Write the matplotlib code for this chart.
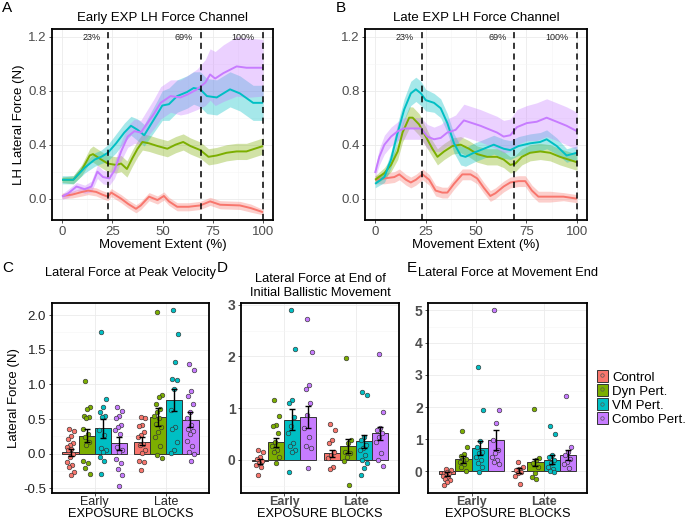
import numpy as np
import matplotlib
matplotlib.use("Agg")
import matplotlib.pyplot as plt
from matplotlib.patches import Patch
from matplotlib.lines import Line2D

plt.rcParams['font.family'] = ['Liberation Sans', 'DejaVu Sans']
plt.rcParams['axes.unicode_minus'] = False

groups = ["Control", "Dyn Pert.", "VM Pert.", "Combo Pert."]
colors = ["#F8766D", "#7CAE00", "#00BFC4", "#C77CFF"]

# ---------------- Panel A: Early EXP (x, mean, band half-width) ----------------
A_ctrl_x = [0, 5, 10, 13, 17, 20, 22.8, 24.5, 29.4, 33, 36.8, 39.2, 43.3, 47.5, 50.7, 53.2, 57.3, 63, 68.8, 73.7, 78.7, 88.5, 94, 100]
A_ctrl_y = [0.02, 0.03, 0.05, 0.06, 0.05, 0.03, 0.015, 0.045, 0.0, -0.04, -0.075, -0.05, 0.015, -0.01, 0.02, -0.02, -0.06, -0.06, -0.05, -0.02, -0.045, -0.05, -0.07, -0.10]
A_ctrl_s = [0.02, 0.025, 0.03, 0.03, 0.03, 0.03, 0.03, 0.03, 0.03, 0.03, 0.03, 0.03, 0.03, 0.03, 0.03, 0.03, 0.03, 0.03, 0.03, 0.03, 0.03, 0.03, 0.03, 0.02]

A_dyn_x = [0, 5.6, 9.7, 13.8, 15.4, 19.5, 22.8, 26.9, 29.4, 32.3, 35, 37.6, 40, 43.3, 47.5, 52.4, 56.5, 60.3, 63.9, 68.8, 72.9, 77, 81.9, 86.9, 91.8, 100]
A_dyn_y = [0.14, 0.14, 0.21, 0.32, 0.33, 0.29, 0.26, 0.25, 0.26, 0.22, 0.30, 0.37, 0.42, 0.41, 0.39, 0.37, 0.40, 0.42, 0.39, 0.36, 0.31, 0.32, 0.34, 0.35, 0.35, 0.39]
A_dyn_s = [0.02, 0.03, 0.04, 0.05, 0.06, 0.06, 0.06, 0.06, 0.06, 0.06, 0.06, 0.06, 0.06, 0.06, 0.06, 0.06, 0.06, 0.06, 0.06, 0.06, 0.06, 0.06, 0.06, 0.06, 0.06, 0.06]

A_vm_x = [0, 5.6, 11.3, 16.3, 19.5, 22.8, 26.9, 31, 34.3, 37.6, 40.9, 44.2, 47.5, 49.9, 53.2, 57.3, 62.2, 65.5, 68.8, 72.1, 77, 83.6, 88.5, 95.1, 100]
A_vm_y = [0.14, 0.14, 0.23, 0.29, 0.31, 0.34, 0.41, 0.49, 0.54, 0.51, 0.47, 0.55, 0.63, 0.69, 0.70, 0.76, 0.79, 0.82, 0.81, 0.76, 0.75, 0.81, 0.78, 0.71, 0.71]
A_vm_s = [0.03, 0.03, 0.04, 0.05, 0.05, 0.06, 0.07, 0.07, 0.07, 0.08, 0.08, 0.09, 0.10, 0.11, 0.12, 0.12, 0.12, 0.12, 0.13, 0.13, 0.13, 0.13, 0.13, 0.13, 0.13]

A_cmb_x = [0, 3.1, 7.2, 11.3, 14.6, 17.6, 20.4, 23.6, 26.1, 29.4, 32.7, 36, 39.2, 42.5, 45.8, 49.1, 54, 58.9, 62.2, 67.2, 71.3, 73.7, 76.2, 80.3, 86.9, 91.8, 100]
A_cmb_y = [0.015, 0.04, 0.09, 0.07, 0.09, 0.20, 0.16, 0.15, 0.21, 0.35, 0.46, 0.50, 0.49, 0.56, 0.63, 0.71, 0.76, 0.75, 0.77, 0.81, 0.86, 0.92, 0.89, 0.93, 0.98, 0.97, 0.97]
A_cmb_s = [0.02, 0.03, 0.03, 0.03, 0.04, 0.05, 0.05, 0.05, 0.06, 0.07, 0.08, 0.09, 0.09, 0.10, 0.11, 0.12, 0.12, 0.13, 0.14, 0.15, 0.17, 0.19, 0.20, 0.21, 0.22, 0.22, 0.21]

# ---------------- Panel B: Late EXP ----------------
B_ctrl_x = [0, 4.6, 9.5, 12, 15.3, 17.7, 20.2, 23.5, 26.8, 30, 33.3, 35.8, 39.1, 43.2, 47.3, 50.6, 53.9, 57.1, 59.6, 63.7, 67, 71.1, 74.4, 77.7, 80.9, 86.7, 93.3, 100]
B_ctrl_y = [0.14, 0.15, 0.16, 0.18, 0.14, 0.12, 0.14, 0.18, 0.14, 0.06, 0.045, 0.045, 0.11, 0.18, 0.18, 0.15, 0.08, 0.02, 0.04, 0.09, 0.12, 0.13, 0.13, 0.06, 0.015, 0.015, 0.015, 0.0]
B_ctrl_s = [0.03, 0.04, 0.04, 0.04, 0.04, 0.04, 0.04, 0.04, 0.04, 0.04, 0.04, 0.04, 0.04, 0.04, 0.04, 0.04, 0.04, 0.04, 0.04, 0.04, 0.04, 0.04, 0.04, 0.04, 0.04, 0.04, 0.03, 0.03]

B_dyn_x = [0, 4.6, 7.9, 11.2, 13.6, 16.9, 18.6, 21.8, 25.1, 28.4, 30.9, 34.2, 38.3, 42.4, 46.5, 50.6, 55.5, 60.4, 63.7, 67, 69.5, 72.7, 76.8, 81.8, 86.7, 91.6, 100]
B_dyn_y = [0.14, 0.19, 0.25, 0.35, 0.49, 0.60, 0.60, 0.55, 0.46, 0.37, 0.31, 0.35, 0.39, 0.40, 0.37, 0.33, 0.31, 0.31, 0.29, 0.25, 0.26, 0.31, 0.34, 0.35, 0.34, 0.31, 0.27]
B_dyn_s = [0.03, 0.04, 0.05, 0.06, 0.07, 0.08, 0.08, 0.08, 0.07, 0.06, 0.06, 0.06, 0.06, 0.06, 0.06, 0.06, 0.06, 0.06, 0.06, 0.06, 0.06, 0.06, 0.06, 0.06, 0.06, 0.06, 0.06]

B_vm_x = [0, 4.6, 7.9, 11.2, 14.4, 17.7, 20.2, 22.7, 25.1, 29.2, 32.5, 35.8, 39.1, 42.4, 44.8, 48.9, 53.9, 58.8, 63.7, 67, 71.1, 76.8, 81.8, 85, 90, 94.9, 100]
B_vm_y = [0.11, 0.16, 0.29, 0.49, 0.66, 0.78, 0.81, 0.78, 0.73, 0.71, 0.67, 0.56, 0.41, 0.32, 0.31, 0.34, 0.37, 0.40, 0.37, 0.36, 0.39, 0.41, 0.42, 0.44, 0.39, 0.32, 0.34]
B_vm_s = [0.03, 0.04, 0.06, 0.07, 0.08, 0.09, 0.09, 0.09, 0.08, 0.07, 0.07, 0.07, 0.07, 0.07, 0.07, 0.07, 0.07, 0.07, 0.07, 0.07, 0.07, 0.07, 0.07, 0.07, 0.06, 0.05, 0.05]

B_cmb_x = [0, 2.1, 4.6, 7.9, 11.2, 14.4, 18.6, 22.7, 25.9, 29.2, 32.5, 35.8, 39.9, 44, 48.1, 52.2, 57.1, 60.4, 63.7, 67, 70.3, 75.2, 80.1, 85, 90, 94.9, 100]
B_cmb_y = [0.19, 0.31, 0.40, 0.46, 0.50, 0.52, 0.52, 0.52, 0.46, 0.44, 0.45, 0.49, 0.51, 0.58, 0.56, 0.54, 0.51, 0.49, 0.46, 0.47, 0.53, 0.56, 0.57, 0.60, 0.57, 0.54, 0.50]
B_cmb_s = [0.04, 0.06, 0.07, 0.07, 0.07, 0.08, 0.08, 0.08, 0.09, 0.09, 0.10, 0.10, 0.11, 0.12, 0.12, 0.12, 0.12, 0.12, 0.12, 0.12, 0.13, 0.13, 0.14, 0.14, 0.14, 0.14, 0.14]

vlines = [23, 69, 100]
vline_labels = ["23%", "69%", "100%"]

# ---------------- Bar panels ----------------
blocks = ["Early", "Late"]

# Panel C: Lateral Force at Peak Velocity
C_mean = [[0.02, 0.26, 0.37, 0.15], [0.17, 0.53, 0.78, 0.49]]
C_lo = [[-0.03, 0.17, 0.22, 0.06], [0.12, 0.40, 0.61, 0.38]]
C_hi = [[0.07, 0.35, 0.50, 0.24], [0.24, 0.66, 0.93, 0.60]]
C_pts = [
    [[0.36, 0.33, 0.26, 0.21, 0.15, 0.13, 0.10, 0.07, 0.05, 0.0, -0.05, -0.12, -0.17, -0.19, -0.26, -0.31],
     [1.05, 0.67, 0.65, 0.55, 0.53, 0.52, 0.36, 0.29, 0.24, 0.17, 0.12, -0.10, -0.13, -0.20, -0.30],
     [1.76, 0.79, 0.67, 0.60, 0.55, 0.53, 0.34, 0.27, 0.08, 0.06, 0.02, -0.05, -0.11, -0.30],
     [0.68, 0.62, 0.55, 0.52, 0.42, 0.39, 0.34, 0.28, 0.10, 0.05, 0.02, -0.08, -0.14, -0.22, -0.31, -0.46]],
    [[0.53, 0.51, 0.41, 0.40, 0.31, 0.27, 0.24, 0.14, 0.12, 0.05, 0.01, -0.10, -0.12, -0.23],
     [2.05, 0.84, 0.82, 0.71, 0.65, 0.60, 0.55, 0.52, 0.43, 0.39, 0.31, 0.24, 0.11, -0.02, -0.06],
     [2.07, 1.73, 1.32, 1.08, 1.07, 0.94, 0.63, 0.38, 0.36, 0.17, 0.06, 0.01],
     [1.29, 1.21, 0.90, 0.83, 0.71, 0.60, 0.51, 0.41, 0.36, 0.33, 0.29, 0.19, 0.11, 0.03, 0.0, -0.10]],
]

# Panel D: Lateral Force at End of Initial Ballistic Movement
D_mean = [[-0.03, 0.34, 0.78, 0.83], [0.13, 0.26, 0.36, 0.52]]
D_lo = [[-0.07, 0.24, 0.57, 0.61], [0.06, 0.13, 0.23, 0.38]]
D_hi = [[0.02, 0.43, 0.99, 1.04], [0.20, 0.40, 0.49, 0.63]]
D_pts = [
    [[0.19, 0.16, 0.06, 0.01, -0.03, -0.06, -0.10, -0.13, -0.29],
     [1.16, 0.84, 0.68, 0.65, 0.52, 0.35, 0.26, 0.19, 0.16, 0.06, -0.06],
     [2.89, 2.14, 1.15, 1.11, 0.83, 0.65, 0.52, 0.32, 0.26, 0.19, 0.16, -0.23],
     [2.73, 2.08, 1.45, 1.37, 1.11, 0.87, 0.61, 0.45, 0.26, 0.23, -0.16]],
    [[0.70, 0.58, 0.39, 0.32, 0.16, 0.10, 0.03, -0.13, -0.18],
     [1.98, 0.39, 0.32, 0.16, 0.13, 0.06, -0.03, -0.48],
     [1.32, 1.26, 0.45, 0.39, 0.29, 0.23, 0.19, 0.10, 0.0, -0.06, -0.16, -0.29],
     [2.04, 0.92, 0.61, 0.57, 0.52, 0.45, 0.35, 0.13, 0.0, -0.12]],
]

# Panel E: Lateral Force at Movement End
E_mean = [[-0.08, 0.39, 0.72, 0.97], [0.01, 0.28, 0.35, 0.50]]
E_lo = [[-0.13, 0.27, 0.50, 0.65], [-0.05, 0.16, 0.22, 0.35]]
E_hi = [[-0.03, 0.48, 0.94, 1.30], [0.10, 0.38, 0.50, 0.65]]
E_pts = [
    [[0.06, 0.03, -0.01, -0.04, -0.06, -0.10, -0.13, -0.17, -0.22, -0.28, -0.32, -0.42],
     [1.26, 0.77, 0.53, 0.49, 0.40, 0.35, 0.30, 0.23, 0.14, 0.0],
     [3.25, 1.90, 0.95, 0.77, 0.61, 0.56, 0.46, 0.35, 0.25, 0.14, -0.01],
     [5.0, 1.90, 1.51, 0.97, 0.66, 0.56, 0.46, 0.35, 0.30, 0.23]],
    [[0.30, 0.14, 0.09, 0.04, -0.01, -0.06, -0.14, -0.40],
     [1.94, 0.42, 0.35, 0.25, 0.14, -0.06, -0.17, -0.22],
     [1.42, 1.15, 0.51, 0.46, 0.35, 0.25, 0.14, 0.06, 0.02, -0.01],
     [2.35, 0.77, 0.61, 0.51, 0.40, 0.30, 0.23, 0.12]],
]

W, H = 685, 521
fig = plt.figure(figsize=(W / 100, H / 100), dpi=100)


def ax_at(l, r, t, b):
    return fig.add_axes([l / W, (H - b) / H, (r - l) / W, (b - t) / H])


GRID_MAJ = "#EBEBEB"
GRID_MIN = "#F5F5F5"
TICK_COL = "#4D4D4D"


def style_box(ax):
    for s in ax.spines.values():
        s.set_color("black")
        s.set_linewidth(1.3)
    ax.set_axisbelow(True)
    ax.tick_params(length=2.5, width=0.6, color="#333333", pad=1.5)


# ---------- line panels ----------
def line_panel(ax, series, title, ylab):
    for (x, y, s), c in zip(series, colors):
        x = np.asarray(x); y = np.asarray(y); s = np.asarray(s)
        ax.fill_between(x, y - s, y + s, color=c, alpha=0.35, lw=0)
    for (x, y, s), c in zip(series, colors):
        ax.plot(x, y, color=c, lw=1.4, solid_capstyle="butt")
    for v, lab in zip(vlines, vline_labels):
        ax.axvline(v, color="black", lw=1.1, ls=(0, (4, 3)))
        ax.text(v - 4, 1.195, lab, ha="right", va="center", fontsize=6.5, color="#222222")
    ax.set_xlim(-5, 105)
    ax.set_ylim(-0.158, 1.257)
    ax.set_xticks([0, 25, 50, 75, 100])
    ax.set_xticks([12.5, 37.5, 62.5, 87.5], minor=True)
    ax.set_yticks([0.0, 0.4, 0.8, 1.2])
    ax.set_yticklabels(["0.0", "0.4", "0.8", "1.2"])
    ax.set_yticks([0.2, 0.6, 1.0], minor=True)
    ax.grid(True, which="major", color=GRID_MAJ, lw=0.6)
    ax.grid(True, which="minor", color=GRID_MIN, lw=0.4)
    ax.tick_params(which="minor", length=0)
    style_box(ax)
    ax.tick_params(labelsize=9.5, labelcolor=TICK_COL)
    ax.set_title(title, fontsize=9.5, pad=6)
    ax.set_xlabel("Movement Extent (%)", fontsize=9.5, labelpad=1)
    if ylab:
        ax.set_ylabel(ylab, fontsize=9.5, labelpad=2)


axA = ax_at(52, 273, 29, 220)
line_panel(axA, [(A_ctrl_x, A_ctrl_y, A_ctrl_s), (A_dyn_x, A_dyn_y, A_dyn_s),
                 (A_vm_x, A_vm_y, A_vm_s), (A_cmb_x, A_cmb_y, A_cmb_s)],
           "Early EXP LH Force Channel", "LH Lateral Force (N)")
axB = ax_at(365, 587, 29, 220)
line_panel(axB, [(B_ctrl_x, B_ctrl_y, B_ctrl_s), (B_dyn_x, B_dyn_y, B_dyn_s),
                 (B_vm_x, B_vm_y, B_vm_s), (B_cmb_x, B_cmb_y, B_cmb_s)],
           "Late EXP LH Force Channel", None)


# ---------- bar panels ----------
def bar_panel(ax, mean, lo, hi, pts, ylim, yticks, yticklabels, minor, title, title_pad, ylab, bold):
    offs = np.array([-0.3375, -0.1125, 0.1125, 0.3375])
    bw = 0.225
    for gi in range(2):
        for k in range(4):
            xc = gi + 1 + offs[k]
            ax.bar(xc, mean[gi][k], width=bw, color=colors[k], edgecolor="#333333", lw=0.7, zorder=2)
    for gi in range(2):
        for k in range(4):
            xc = gi + 1 + offs[k]
            v = np.asarray(pts[gi][k])
            n = len(v)
            jit = (((np.arange(n) * 0.618034) + 0.3) % 1 - 0.5) * 0.11
            ax.scatter(xc + jit, v, s=11, color=colors[k], edgecolor="#333333", lw=0.45, zorder=3)
    for gi in range(2):
        for k in range(4):
            xc = gi + 1 + offs[k]
            ax.errorbar(xc, mean[gi][k], yerr=[[mean[gi][k] - lo[gi][k]], [hi[gi][k] - mean[gi][k]]],
                        fmt="none", ecolor="black", elinewidth=1.0, capsize=2, capthick=1.0, zorder=4)
    ax.set_xlim(0.4, 2.6)
    ax.set_ylim(*ylim)
    ax.set_xticks([1, 2])
    ax.set_xticklabels(blocks)
    ax.set_yticks(yticks)
    ax.set_yticklabels(yticklabels)
    ax.set_yticks(minor, minor=True)
    ax.grid(True, which="major", color=GRID_MAJ, lw=0.6)
    ax.grid(True, which="minor", axis="y", color=GRID_MIN, lw=0.4)
    ax.tick_params(which="minor", length=0)
    style_box(ax)
    ax.tick_params(axis="x", pad=0.5, length=2)
    if bold:
        ax.tick_params(axis="y", labelsize=10, labelcolor=TICK_COL)
        ax.tick_params(axis="x", labelsize=9, labelcolor=TICK_COL)
        for t in ax.get_xticklabels() + ax.get_yticklabels():
            t.set_fontweight("bold")
    else:
        ax.tick_params(axis="y", labelsize=9.5, labelcolor="#222222")
        ax.tick_params(axis="x", labelsize=9, labelcolor="#222222")
    ax.set_title(title, fontsize=9.3, pad=title_pad, linespacing=1.15)
    ax.set_xlabel("EXPOSURE BLOCKS", fontsize=9.2)
    ax.xaxis.set_label_coords(0.5, -0.079)
    if ylab:
        ax.set_ylabel(ylab, fontsize=9.5, labelpad=2)


axC = ax_at(51.7, 209.3, 302.7, 493)
bar_panel(axC, C_mean, C_lo, C_hi, C_pts, (-0.568, 2.18),
          [-0.5, 0, 0.5, 1.0, 1.5, 2.0], ["-0.5", "0.0", "0.5", "1.0", "1.5", "2.0"],
          [-0.25, 0.25, 0.75, 1.25, 1.75],
          "Lateral Force at Peak Velocity", 19, "Lateral Force (N)", False)

axD = ax_at(241, 399, 302.7, 493)
bar_panel(axD, D_mean, D_lo, D_hi, D_pts, (-0.64, 3.04),
          [0, 1, 2, 3], ["0", "1", "2", "3"], [-0.5, 0.5, 1.5, 2.5],
          "Lateral Force at End of\nInitial Ballistic Movement", 5, None, True)

axE = ax_at(428.3, 586.7, 302.7, 493)
bar_panel(axE, E_mean, E_lo, E_hi, E_pts, (-0.67, 5.24),
          [0, 1, 2, 3, 4, 5], ["0", "1", "2", "3", "4", "5"], [-0.5, 0.5, 1.5, 2.5, 3.5, 4.5],
          "Lateral Force at Movement End", 19, None, True)

# legend
handles = []
for c in colors:
    handles.append((Patch(facecolor=c, edgecolor="#333333", lw=0.7),
                    Line2D([], [], marker="o", ls="none", markersize=2.5, markerfacecolor=c,
                           markeredgecolor="#555555", markeredgewidth=0.5)))
fig.legend(handles, groups, loc="center left", bbox_to_anchor=(597 / W, 1 - 398 / H),
           frameon=False, fontsize=9.5, handlelength=0.8, handleheight=1.0,
           handletextpad=0.35, labelspacing=0.05, borderaxespad=0, borderpad=0)

# panel letters
for lab, x, y in [("A", 2, 1), ("B", 336, 1), ("C", 2, 261), ("D", 217, 261), ("E", 407, 261)]:
    fig.text(x / W, 1 - y / H, lab, fontsize=11, ha="left", va="top")

fig.savefig("out.png", dpi=100)
